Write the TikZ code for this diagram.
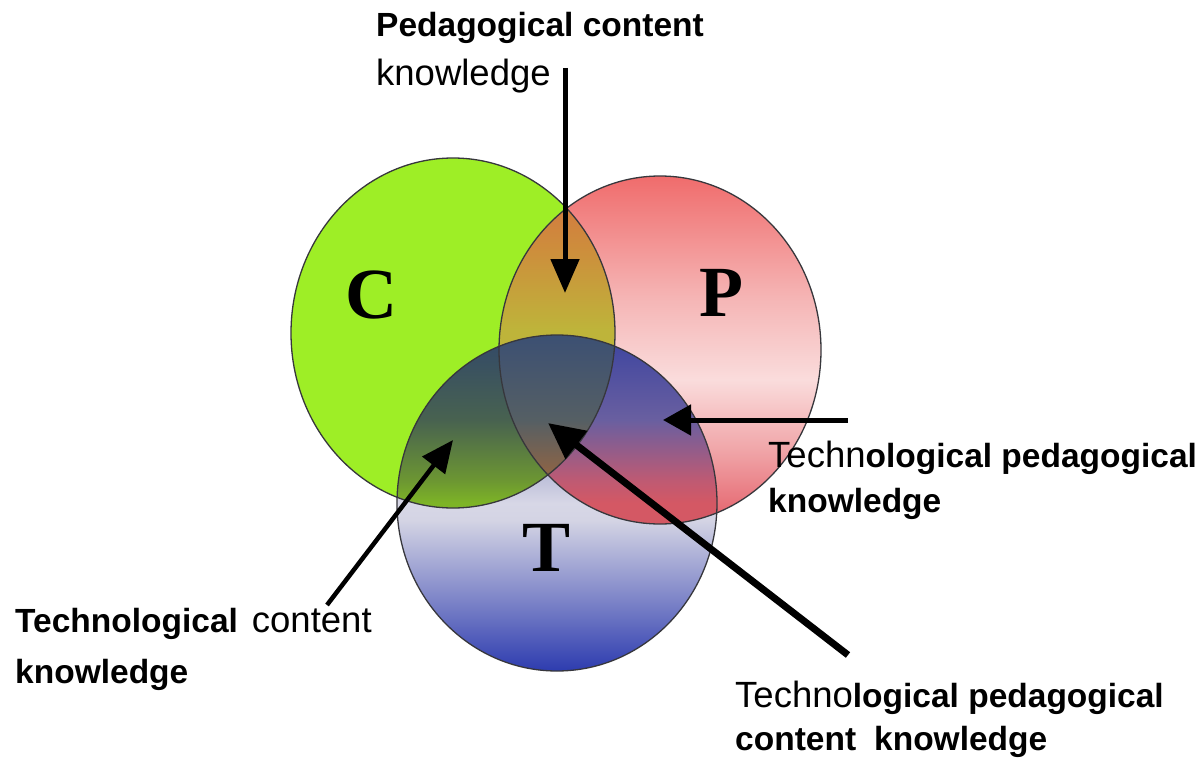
\documentclass[tikz,border=0pt]{standalone}
\usepackage{fontspec}
\setmainfont{Liberation Sans}
\newfontfamily\letterfont{Liberation Serif}
\usetikzlibrary{arrows.meta}

\definecolor{cgreen}{RGB}{158,238,38}
\definecolor{outl}{RGB}{55,55,60}
% P alone
\definecolor{P75}{RGB}{240,108,108}
\definecolor{P57}{RGB}{245,182,182}
\definecolor{P45}{RGB}{250,220,220}
\definecolor{P35}{RGB}{240,165,168}
\definecolor{P25}{RGB}{228,95,105}
% C and P
\definecolor{CP75}{RGB}{215,112,65}
\definecolor{CP64}{RGB}{205,142,60}
\definecolor{CP53}{RGB}{190,180,58}
% T alone
\definecolor{T75}{RGB}{50,60,150}
\definecolor{T50}{RGB}{215,215,230}
\definecolor{T47}{RGB}{212,212,228}
\definecolor{T35}{RGB}{125,132,200}
\definecolor{T25}{RGB}{45,60,175}
% C and T
\definecolor{CT75}{RGB}{50,72,105}
\definecolor{CT62}{RGB}{72,98,80}
\definecolor{CT53}{RGB}{108,150,50}
\definecolor{CT50}{RGB}{125,180,38}
% P and T
\definecolor{PT75}{RGB}{60,68,160}
\definecolor{PT62}{RGB}{105,95,160}
\definecolor{PT53}{RGB}{190,90,115}
\definecolor{PT50}{RGB}{212,88,100}
% C, P and T
\definecolor{X75}{RGB}{60,80,115}
\definecolor{X62}{RGB}{85,95,100}
\definecolor{X54}{RGB}{140,100,70}
\definecolor{X50}{RGB}{150,100,60}

\pgfdeclareverticalshading{Pshade}{100bp}{color(0bp)=(P25); color(25bp)=(P25); color(35.6bp)=(P35); color(45.7bp)=(P45); color(57.2bp)=(P57); color(75bp)=(P75); color(100bp)=(P75)}
\pgfdeclareverticalshading{CPshade}{100bp}{color(0bp)=(CP53); color(52.9bp)=(CP53); color(64.4bp)=(CP64); color(75bp)=(CP75); color(100bp)=(CP75)}
\pgfdeclareverticalshading{Tshade}{100bp}{color(0bp)=(T25); color(25bp)=(T25); color(35.6bp)=(T35); color(47.5bp)=(T47); color(50bp)=(T50); color(75bp)=(T75); color(100bp)=(T75)}
\pgfdeclareverticalshading{CTshade}{100bp}{color(0bp)=(CT50); color(50bp)=(CT50); color(53.4bp)=(CT53); color(62.4bp)=(CT62); color(75bp)=(CT75); color(100bp)=(CT75)}
\pgfdeclareverticalshading{PTshade}{100bp}{color(0bp)=(PT50); color(50bp)=(PT50); color(53.4bp)=(PT53); color(62.4bp)=(PT62); color(75bp)=(PT75); color(100bp)=(PT75)}
\pgfdeclareverticalshading{Xshade}{100bp}{color(0bp)=(X50); color(50bp)=(X50); color(54.5bp)=(X54); color(62.4bp)=(X62); color(75bp)=(X75); color(100bp)=(X75)}

\tikzset{
  lbl/.style={inner sep=0pt, anchor=base west, font=\fontsize{33.5}{40}\selectfont},
  bigletter/.style={inner sep=0pt, font=\letterfont\bfseries\fontsize{72}{72}\selectfont},
  rim/.style={draw=outl, line width=1.3pt},
  arr/.style={draw=black, line width=5pt, -{Triangle[length=34pt,width=28pt]}},
}
\newcommand{\regw}[1]{{\fontsize{36.5}{40}\selectfont #1}}
\newcommand{\Cpath}{(453,333) ellipse [x radius=162pt, y radius=175pt]}
\newcommand{\Ppath}{(660,350) ellipse [x radius=161pt, y radius=174pt]}
\newcommand{\Tpath}{(557,503) ellipse [x radius=160pt, y radius=168pt]}

\begin{document}
\begin{tikzpicture}[x=1pt,y=-1pt]
\useasboundingbox[fill=white] (0,0) rectangle (1200,760);

% fills
\fill[cgreen] \Cpath;
\shade[shading=Pshade] \Ppath;
\begin{scope}
  \clip \Cpath;
  \shade[shading=CPshade] \Ppath;
\end{scope}
\shade[shading=Tshade] \Tpath;
\begin{scope}
  \clip \Cpath;
  \shade[shading=CTshade] \Tpath;
\end{scope}
\begin{scope}
  \clip \Ppath;
  \shade[shading=PTshade] \Tpath;
\end{scope}
\begin{scope}
  \clip \Cpath;
  \clip \Ppath;
  \shade[shading=Xshade] \Tpath;
\end{scope}
% outlines
\draw[rim] \Cpath;
\draw[rim] \Ppath;
\draw[rim] \Tpath;

% letters
\node[bigletter] (Cl) at (371,295) {C};
\node[bigletter] (Pl) at (721,293) {P};
\node[bigletter] (Tl) at (547,548) {T};

% labels
\node[lbl] (pck1) at (376,37) {\bfseries Pedagogical content};
\node[lbl] (pck2) at (376,85) {\regw{knowledge}};

\node[lbl] (tck1) at (15,632) {\bfseries Technological\hspace{14pt}\mdseries\regw{content}};
\node[lbl] (tck2) at (15,683) {\bfseries knowledge};

\node[lbl] (tpk1) at (768,467) {\regw{Techn}\bfseries ological pedagogical};
\node[lbl] (tpk2) at (768,512) {\bfseries knowledge};

\node[lbl] (tpck1) at (735,707) {\regw{Techno}\bfseries logical pedagogical};
\node[lbl] (tpck2) at (735,750) {\bfseries content\hspace{18pt}knowledge};

% arrows
\coordinate (a1s) at (565,68);
\coordinate (a1e) at (565,293);
\coordinate (a2s) at (848,420);
\coordinate (a2e) at (663,420);
\coordinate (a3s) at (848,655);
\coordinate (a3e) at (548,423);
\coordinate (a4s) at (327,605);
\coordinate (a4e) at (453,440);

\draw[arr] (a1s) -- (a1e);
\draw[arr, -{Triangle[length=28pt,width=30pt]}] (a2s) -- (a2e);
\draw[arr, line width=7pt, -{Triangle[length=36pt,width=34pt]}] (a3s) -- (a3e);
\draw[arr, line width=4.5pt, -{Triangle[length=32pt,width=28pt]}] (a4s) -- (a4e);
\end{tikzpicture}
\end{document}
